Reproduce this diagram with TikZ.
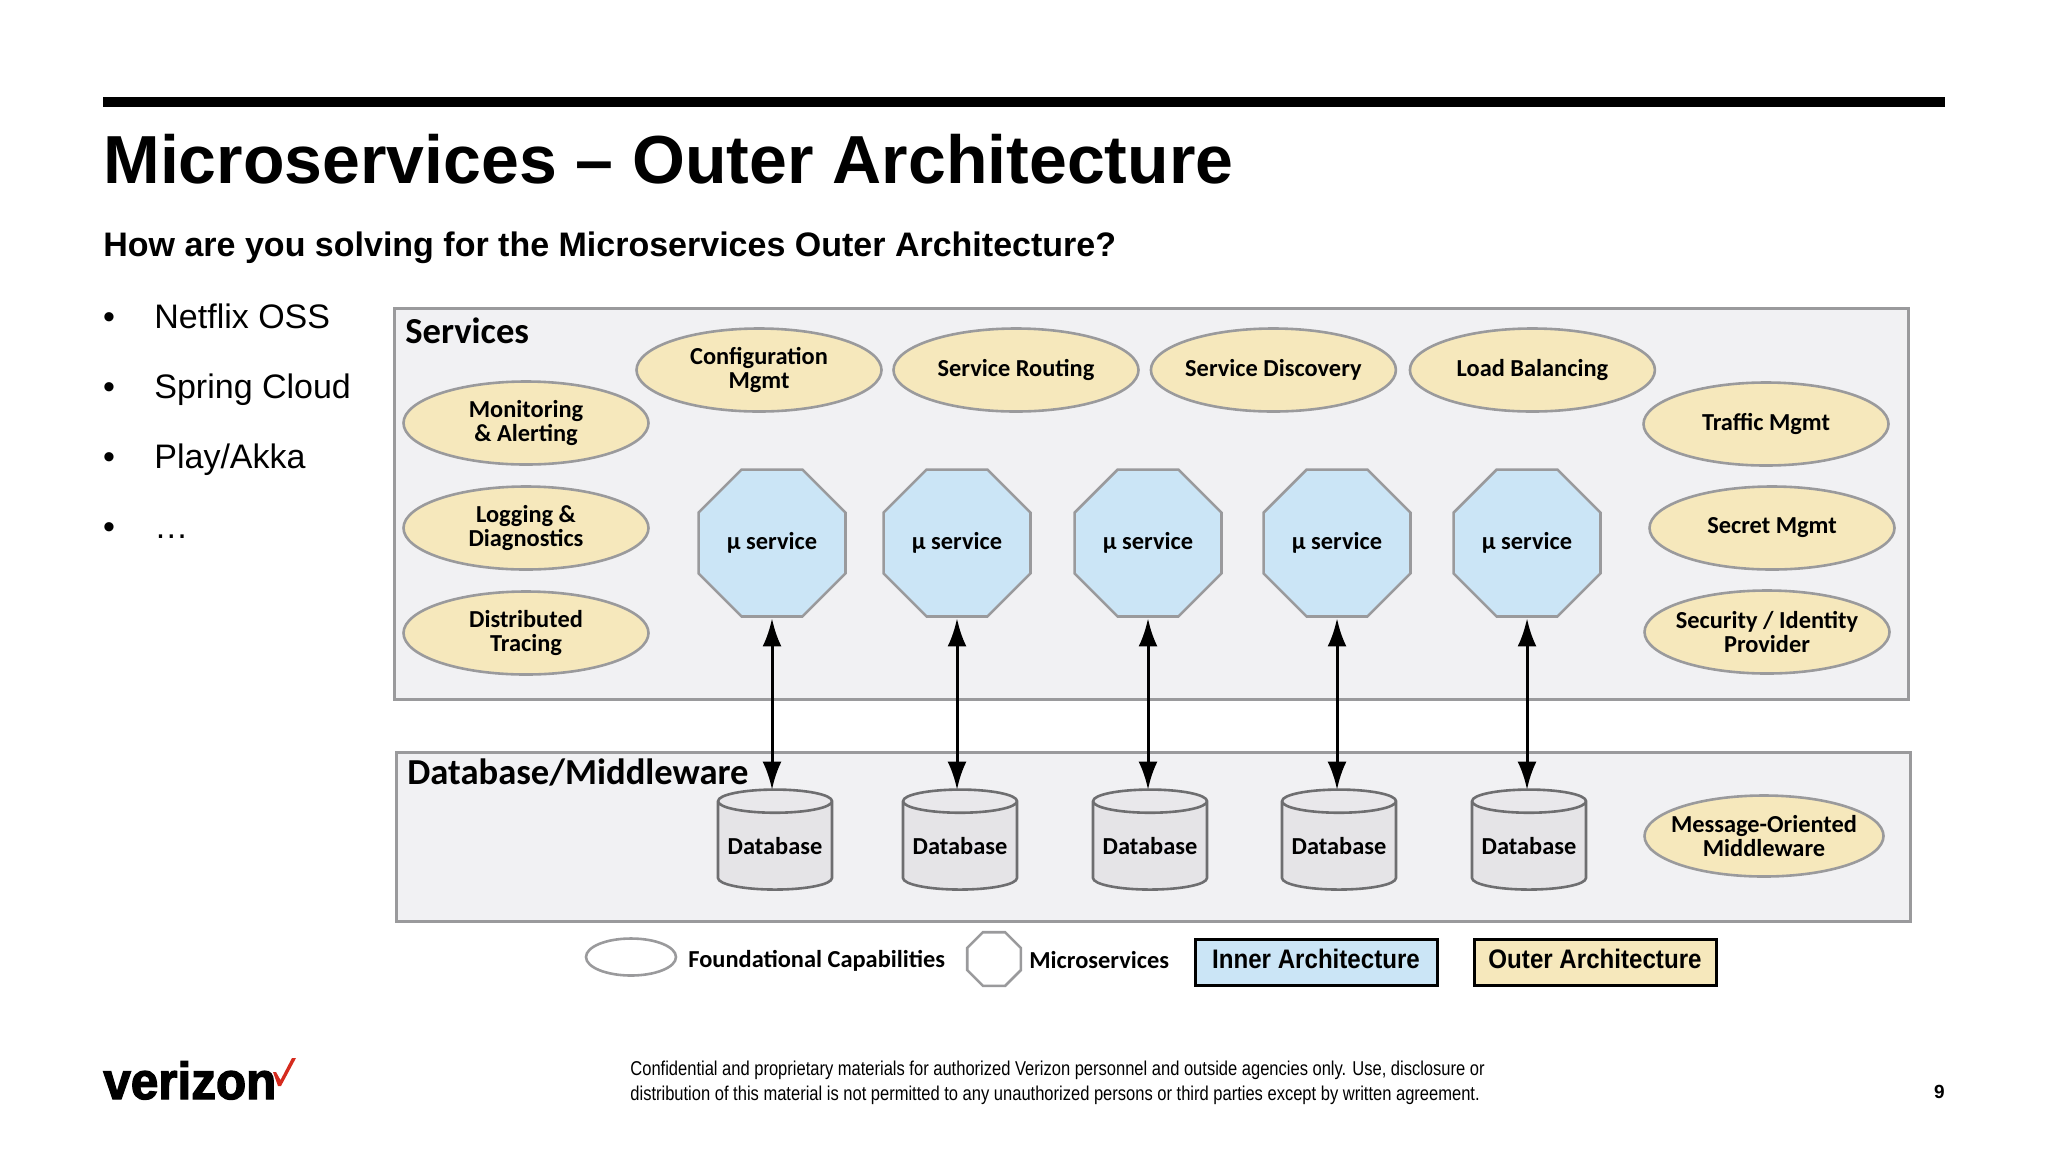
\documentclass[tikz,border=0pt]{standalone}
\usepackage{fontspec}
\usepackage{xcolor}
\usepackage{tikz}
\usetikzlibrary{arrows.meta,positioning,shapes.geometric}
\setmainfont{Liberation Sans}
\newfontfamily\diagfont{Carlito}
\newfontfamily\notefont[FakeStretch=0.826]{Liberation Sans}
\newfontfamily\keyfont[FakeStretch=0.9]{Liberation Sans}
\newfontfamily\logofont[UprightFont=* Bold,FakeBold=2.5,FakeStretch=0.95]{Liberation Sans}
\definecolor{VzYellow}{HTML}{F6E8BC}
\definecolor{VzBlue}{HTML}{CBE5F6}
\definecolor{VzPanel}{HTML}{F1F1F3}
\definecolor{VzGrey}{HTML}{9A9A9C}
\definecolor{VzDrum}{HTML}{E5E4E7}
\definecolor{VzDrumLine}{HTML}{6E6E70}
\definecolor{VzRed}{HTML}{D52B1E}
\tikzset{
  >={Latex[length=14pt,width=9.5pt]},
  flow/.style={<->,line width=1.5pt,draw=black,shorten <=1pt},
  panel/.style={draw=VzGrey,fill=VzPanel,line width=1.5pt,inner sep=0pt,outer sep=0pt},
  panellabel/.style={anchor=west,inner sep=0pt,font=\diagfont\bfseries\fontsize{18.3}{20}\selectfont},
  capability/.style={ellipse,draw=VzGrey,fill=VzYellow,line width=1.3pt,align=center,
    minimum width=122.5pt,minimum height=41.5pt,inner sep=-6pt,outer sep=0pt,
    font=\diagfont\bfseries\fontsize{12.2}{12.2}\selectfont},
  microsvc/.style={regular polygon,regular polygon sides=8,draw=VzGrey,fill=VzBlue,line width=1.3pt,
    minimum size=79.5pt,inner sep=0pt,outer sep=0pt,font=\diagfont\bfseries\fontsize{12.2}{14}\selectfont},
  datastore/.style={cylinder,shape border rotate=90,aspect=0.245,draw=VzDrumLine,line width=1.3pt,
    cylinder uses custom fill,cylinder body fill=VzDrum,cylinder end fill=VzDrum!85,
    minimum width=57pt,minimum height=50pt,inner sep=0pt,outer sep=0pt,
    font=\diagfont\bfseries\fontsize{12.2}{14}\selectfont},
  keylabel/.style={anchor=west,inner sep=0pt,font=\diagfont\bfseries\fontsize{12.2}{14}\selectfont},
  keybox/.style={draw=black,line width=1.5pt,minimum width=121pt,minimum height=23pt,inner sep=0pt,
    outer sep=0pt,text depth=3pt,font=\keyfont\bfseries\fontsize{13.4}{15}\selectfont},
  bulletmark/.style={inner sep=0pt,font=\fontsize{17}{20}\selectfont},
  bullettext/.style={anchor=base west,inner sep=0pt,font=\fontsize{17}{20}\selectfont}
}
\begin{document}
\begin{tikzpicture}[x=0.5pt,y=-0.5pt]
  \useasboundingbox (0,0) rectangle (2048,1152);
  \fill[black] (103,97) rectangle (1945,107);
  \node[anchor=base west,inner sep=0pt,font=\bfseries\fontsize{34}{36}\selectfont] (title) at (103,183) {Microservices -- Outer Architecture};
  \node[anchor=base west,inner sep=0pt,font=\bfseries\fontsize{17}{20}\selectfont] (subtitle) at (103,256) {How are you solving for the Microservices Outer Architecture?};
  % left list
  \node[bullettext] (netflix) at (154,328) {Netflix OSS};
  \node[bullettext] (spring) at (154,398) {Spring Cloud};
  \node[bullettext] (play) at (154,468) {Play/Akka};
  \node[bullettext] (more) at (154,538) {\dots};
  \node[bulletmark,anchor=base] (mark1) at (109,328) {•};
  \node[bulletmark,anchor=base] (mark2) at (109,398) {•};
  \node[bulletmark,anchor=base] (mark3) at (109,468) {•};
  \node[bulletmark,anchor=base] (mark4) at (109,538) {•};
  % the two panels
  \node[panel,minimum width=757pt,minimum height=195.5pt] (services) at (1151,503.5) {};
  \node[panel,minimum width=757pt,minimum height=84.5pt] (database) at (1153,836.5) {};
  \node[panellabel] (serviceslabel) at (405,331) {Services};
  \node[panellabel] (databaselabel) at (407,772) {Database/Middleware};
  % capabilities
  \node[capability] (config) at (759,370) {Configuration\\Mgmt};
  \node[capability,right=6pt of config] (routing) {Service Routing};
  \node[capability,right=6.2pt of routing] (discovery) {Service Discovery};
  \node[capability,right=7pt of discovery] (balancing) {Load Balancing};
  \node[capability] (monitoring) at (526,423) {Monitoring\\\& Alerting};
  \node[capability,below=11pt of monitoring] (logging) {Logging \&\\Diagnostics};
  \node[capability,below=11pt of logging] (tracing) {Distributed\\Tracing};
  \node[capability] (traffic) at (1766,424) {Traffic Mgmt};
  \node[capability] (secret) at (1772,528) {Secret Mgmt};
  \node[capability] (security) at (1767,632) {Security / Identity\\Provider};
  \node[capability,minimum width=119.5pt,minimum height=40.5pt] (mom) at (1764,836) {Message-Oriented\\Middleware};
  % microservices
  \node[microsvc] (svc1) at (772,543) {µ service};
  \node[microsvc] (svc2) at (957,543) {µ service};
  \node[microsvc] (svc3) at (1148,543) {µ service};
  \node[microsvc] (svc4) at (1337,543) {µ service};
  \node[microsvc] (svc5) at (1527,543) {µ service};
  % stores
  \node[datastore] (db1) at (775,846) {Database};
  \node[datastore] (db2) at (960,846) {Database};
  \node[datastore] (db3) at (1150,846) {Database};
  \node[datastore] (db4) at (1339,846) {Database};
  \node[datastore] (db5) at (1529,846) {Database};
  \draw[flow] (svc1.south) -- (svc1.south |- db1.top);
  \draw[flow] (svc2.south) -- (svc2.south |- db2.top);
  \draw[flow] (svc3.south) -- (svc3.south |- db3.top);
  \draw[flow] (svc4.south) -- (svc4.south |- db4.top);
  \draw[flow] (svc5.south) -- (svc5.south |- db5.top);
  % key
  \node[ellipse,draw=VzGrey,line width=1.3pt,minimum width=45pt,minimum height=18.5pt,inner sep=0pt] (keyring) at (631,957) {};
  \node[keylabel] (keyfound) at (688,961) {Foundational Capabilities};
  \node[regular polygon,regular polygon sides=8,draw=VzGrey,line width=1.3pt,minimum size=29pt,inner sep=0pt] (keyoct) at (994,959) {};
  \node[keylabel] (keymicro) at (1029,960) {Microservices};
  \node[keybox,fill=VzBlue] (keyinner) at (1316,962) {Inner Architecture};
  \node[keybox,fill=VzYellow] (keyouter) at (1595,962) {Outer Architecture};
  % footer
  \node[anchor=base west,inner sep=0pt,align=left,font=\notefont\fontsize{10}{12.4}\selectfont] (note) at (630,1100) {Confidential and proprietary materials for authorized Verizon personnel and outside agencies only. Use, disclosure or\\distribution of this material is not permitted to any unauthorized persons or third parties except by written agreement.};
  \node[anchor=base east,inner sep=0pt,font=\bfseries\fontsize{9.5}{12}\selectfont] (pageno) at (1945,1098) {9};
  \node[anchor=base west,inner sep=0pt,font=\logofont\fontsize{26}{28}\selectfont] (logo) at (103,1099) {verizon};
  \fill[VzRed] (273,1072) -- (276,1072) -- (280.5,1080) -- (292,1058) -- (296,1058) -- (281,1086) -- (278,1086) -- cycle;
\end{tikzpicture}
\end{document}
